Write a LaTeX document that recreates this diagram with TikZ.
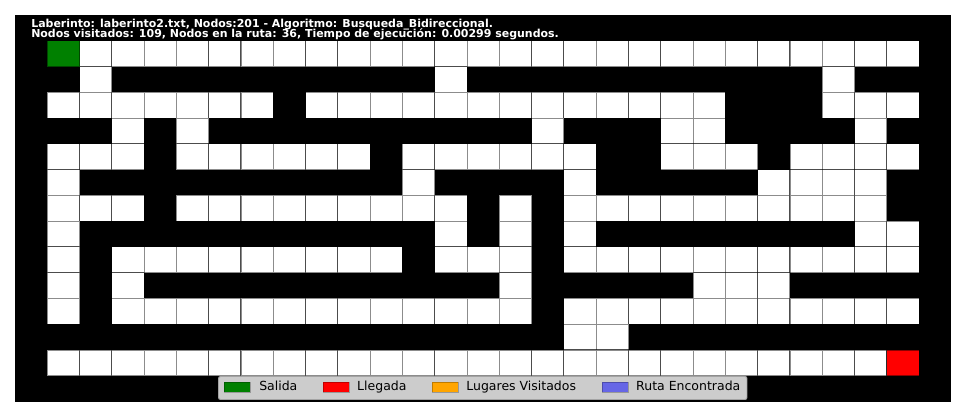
\documentclass[tikz,border=0pt]{standalone}
\usepackage{fontspec}
\setmainfont{DejaVu Sans}
\definecolor{salida}{HTML}{008000}
\definecolor{llegada}{HTML}{FF0000}
\definecolor{visitado}{HTML}{FFA500}
\definecolor{ruta}{HTML}{6666E6}
\definecolor{legbg}{HTML}{CCCCCC}
\definecolor{legline}{HTML}{A3A3A3}
\tikzset{cell/.style={fill=white,draw=black,draw opacity=0.45,line width=0.8pt},swatch/.style={draw=black,draw opacity=0.25,line width=0.5pt},headline/.style={anchor=base west,inner sep=0pt,text=white,font=\bfseries\fontsize{7.9}{9}\selectfont},legtext/.style={anchor=base west,inner sep=0pt,font=\fontsize{9}{11}\selectfont}}
\begin{document}
\begin{tikzpicture}[x=23.25pt,y=-18.555pt]
\useasboundingbox[fill=white] (-0.4645,-0.582) rectangle (29.452,15.561);
\fill[black] (0,0) rectangle (29,15);
\foreach \ry/\from/\upto in {1/1/27,2/2/2,2/13/13,2/25/25,3/1/7,3/9/21,3/25/27,4/3/3,4/5/5,4/16/16,4/20/21,4/26/26,5/1/3,5/5/10,5/12/17,5/20/22,5/24/27,6/1/1,6/12/12,6/17/17,6/23/26,7/1/3,7/5/13,7/15/15,7/17/26,8/1/1,8/13/13,8/15/15,8/17/17,8/26/27,9/1/1,9/3/11,9/13/15,9/17/27,10/1/1,10/3/3,10/15/15,10/21/23,11/1/1,11/3/15,11/17/27,12/17/18,13/1/27}
  \foreach \cx in {\from,...,\upto} \draw[cell] (\cx,\ry) rectangle ++(1,1);
\draw[cell,fill=salida] (1,1) rectangle ++(1,1);
\draw[cell,fill=llegada] (27,13) rectangle ++(1,1);
\node[headline] (info) at (0.4955,0.5045) {Laberinto: laberinto2.txt, Nodos:201 - Algoritmo: Busqueda\_Bidireccional.};
\node[headline] (stats) at (0.4955,0.8925) {Nodos visitados: 109, Nodos en la ruta: 36, Tiempo de ejecución: 0.00299 segundos.};
\draw[legline,fill=legbg,rounded corners=1.5pt,line width=0.7pt] (6.302,14.028) rectangle (22.669,14.921);
\draw[swatch,fill=salida] (6.47,14.24) rectangle (7.28,14.63);
\node[legtext] (tsalida) at (7.556,14.59) {Salida};
\draw[swatch,fill=llegada] (9.54,14.24) rectangle (10.34,14.63);
\node[legtext] (tllegada) at (10.59,14.59) {Llegada};
\draw[swatch,fill=visitado] (12.91,14.24) rectangle (13.72,14.63);
\node[legtext] (tvisitado) at (13.97,14.59) {Lugares Visitados};
\draw[swatch,fill=ruta] (18.18,14.24) rectangle (18.98,14.63);
\node[legtext] (truta) at (19.23,14.59) {Ruta Encontrada};
\end{tikzpicture}
\end{document}
